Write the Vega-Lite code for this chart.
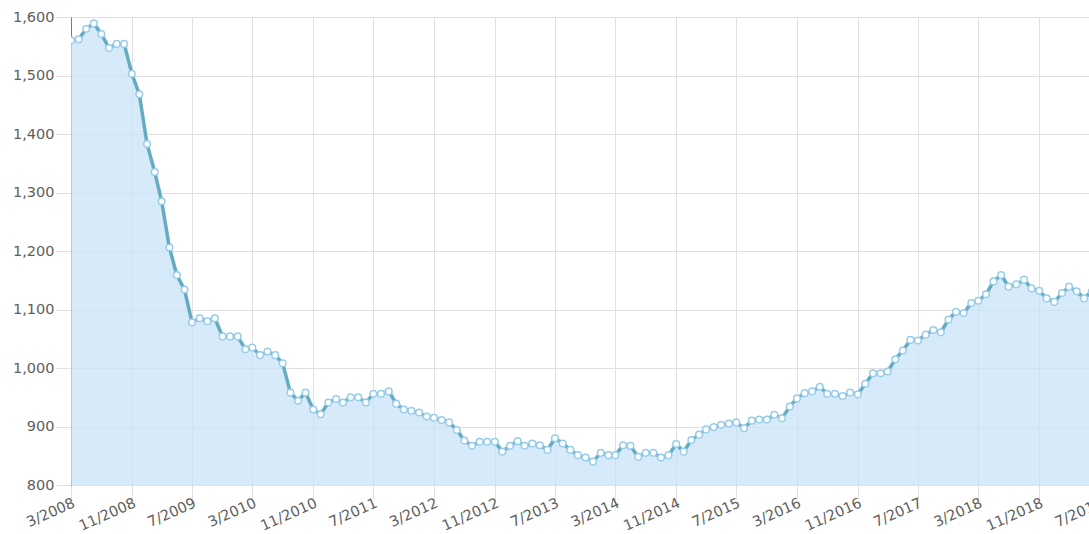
{
  "$schema": "https://vega.github.io/schema/vega-lite/v6.json",
  "autosize": {"type": "none"},
  "padding": {"left": 71, "top": 17, "right": -18, "bottom": 49},
  "width": 1036,
  "height": 468,
  "background": "white",
  "config": {
    "view": {"stroke": null},
    "axis": {
      "labelFont": "DejaVu Sans",
      "labelFontSize": 14.5,
      "labelColor": "#5e5e5e",
      "gridColor": "#e0e0e0",
      "tickColor": "#e0e0e0",
      "gridWidth": 1
    }
  },
  "data": {
    "values": [
      {"month": "2008-03-01T00:00", "value": 1560},
      {"month": "2008-04-01T00:00", "value": 1562},
      {"month": "2008-05-01T00:00", "value": 1580},
      {"month": "2008-06-01T00:00", "value": 1589},
      {"month": "2008-07-01T00:00", "value": 1571},
      {"month": "2008-08-01T00:00", "value": 1547},
      {"month": "2008-09-01T00:00", "value": 1554},
      {"month": "2008-10-01T00:00", "value": 1554},
      {"month": "2008-11-01T00:00", "value": 1503},
      {"month": "2008-12-01T00:00", "value": 1468},
      {"month": "2009-01-01T00:00", "value": 1383},
      {"month": "2009-02-01T00:00", "value": 1335},
      {"month": "2009-03-01T00:00", "value": 1285},
      {"month": "2009-04-01T00:00", "value": 1206},
      {"month": "2009-05-01T00:00", "value": 1159},
      {"month": "2009-06-01T00:00", "value": 1134},
      {"month": "2009-07-01T00:00", "value": 1078},
      {"month": "2009-08-01T00:00", "value": 1085},
      {"month": "2009-09-01T00:00", "value": 1080},
      {"month": "2009-10-01T00:00", "value": 1085},
      {"month": "2009-11-01T00:00", "value": 1054},
      {"month": "2009-12-01T00:00", "value": 1054},
      {"month": "2010-01-01T00:00", "value": 1054},
      {"month": "2010-02-01T00:00", "value": 1032},
      {"month": "2010-03-01T00:00", "value": 1035},
      {"month": "2010-04-01T00:00", "value": 1022},
      {"month": "2010-05-01T00:00", "value": 1028},
      {"month": "2010-06-01T00:00", "value": 1022},
      {"month": "2010-07-01T00:00", "value": 1008},
      {"month": "2010-08-01T00:00", "value": 958},
      {"month": "2010-09-01T00:00", "value": 944},
      {"month": "2010-10-01T00:00", "value": 958},
      {"month": "2010-11-01T00:00", "value": 929},
      {"month": "2010-12-01T00:00", "value": 921},
      {"month": "2011-01-01T00:00", "value": 941},
      {"month": "2011-02-01T00:00", "value": 947},
      {"month": "2011-03-01T00:00", "value": 941},
      {"month": "2011-04-01T00:00", "value": 950},
      {"month": "2011-05-01T00:00", "value": 950},
      {"month": "2011-06-01T00:00", "value": 941},
      {"month": "2011-07-01T00:00", "value": 956},
      {"month": "2011-08-01T00:00", "value": 956},
      {"month": "2011-09-01T00:00", "value": 960},
      {"month": "2011-10-01T00:00", "value": 939},
      {"month": "2011-11-01T00:00", "value": 929},
      {"month": "2011-12-01T00:00", "value": 927},
      {"month": "2012-01-01T00:00", "value": 924},
      {"month": "2012-02-01T00:00", "value": 917},
      {"month": "2012-03-01T00:00", "value": 915},
      {"month": "2012-04-01T00:00", "value": 911},
      {"month": "2012-05-01T00:00", "value": 907},
      {"month": "2012-06-01T00:00", "value": 894},
      {"month": "2012-07-01T00:00", "value": 876},
      {"month": "2012-08-01T00:00", "value": 867},
      {"month": "2012-09-01T00:00", "value": 874},
      {"month": "2012-10-01T00:00", "value": 874},
      {"month": "2012-11-01T00:00", "value": 874},
      {"month": "2012-12-01T00:00", "value": 857},
      {"month": "2013-01-01T00:00", "value": 867},
      {"month": "2013-02-01T00:00", "value": 875},
      {"month": "2013-03-01T00:00", "value": 867},
      {"month": "2013-04-01T00:00", "value": 871},
      {"month": "2013-05-01T00:00", "value": 868},
      {"month": "2013-06-01T00:00", "value": 860},
      {"month": "2013-07-01T00:00", "value": 880},
      {"month": "2013-08-01T00:00", "value": 871},
      {"month": "2013-09-01T00:00", "value": 860},
      {"month": "2013-10-01T00:00", "value": 851},
      {"month": "2013-11-01T00:00", "value": 847},
      {"month": "2013-12-01T00:00", "value": 840},
      {"month": "2014-01-01T00:00", "value": 855},
      {"month": "2014-02-01T00:00", "value": 851},
      {"month": "2014-03-01T00:00", "value": 851},
      {"month": "2014-04-01T00:00", "value": 868},
      {"month": "2014-05-01T00:00", "value": 867},
      {"month": "2014-06-01T00:00", "value": 848},
      {"month": "2014-07-01T00:00", "value": 855},
      {"month": "2014-08-01T00:00", "value": 855},
      {"month": "2014-09-01T00:00", "value": 847},
      {"month": "2014-10-01T00:00", "value": 851},
      {"month": "2014-11-01T00:00", "value": 870},
      {"month": "2014-12-01T00:00", "value": 857},
      {"month": "2015-01-01T00:00", "value": 877},
      {"month": "2015-02-01T00:00", "value": 886},
      {"month": "2015-03-01T00:00", "value": 895},
      {"month": "2015-04-01T00:00", "value": 899},
      {"month": "2015-05-01T00:00", "value": 903},
      {"month": "2015-06-01T00:00", "value": 905},
      {"month": "2015-07-01T00:00", "value": 907},
      {"month": "2015-08-01T00:00", "value": 897},
      {"month": "2015-09-01T00:00", "value": 910},
      {"month": "2015-10-01T00:00", "value": 912},
      {"month": "2015-11-01T00:00", "value": 912},
      {"month": "2015-12-01T00:00", "value": 920},
      {"month": "2016-01-01T00:00", "value": 914},
      {"month": "2016-02-01T00:00", "value": 934},
      {"month": "2016-03-01T00:00", "value": 948},
      {"month": "2016-04-01T00:00", "value": 957},
      {"month": "2016-05-01T00:00", "value": 960},
      {"month": "2016-06-01T00:00", "value": 968},
      {"month": "2016-07-01T00:00", "value": 956},
      {"month": "2016-08-01T00:00", "value": 956},
      {"month": "2016-09-01T00:00", "value": 952},
      {"month": "2016-10-01T00:00", "value": 958},
      {"month": "2016-11-01T00:00", "value": 955},
      {"month": "2016-12-01T00:00", "value": 973},
      {"month": "2017-01-01T00:00", "value": 991},
      {"month": "2017-02-01T00:00", "value": 991},
      {"month": "2017-03-01T00:00", "value": 994},
      {"month": "2017-04-01T00:00", "value": 1015},
      {"month": "2017-05-01T00:00", "value": 1030},
      {"month": "2017-06-01T00:00", "value": 1048},
      {"month": "2017-07-01T00:00", "value": 1047},
      {"month": "2017-08-01T00:00", "value": 1057},
      {"month": "2017-09-01T00:00", "value": 1065},
      {"month": "2017-10-01T00:00", "value": 1061},
      {"month": "2017-11-01T00:00", "value": 1083},
      {"month": "2017-12-01T00:00", "value": 1096},
      {"month": "2018-01-01T00:00", "value": 1094},
      {"month": "2018-02-01T00:00", "value": 1111},
      {"month": "2018-03-01T00:00", "value": 1115},
      {"month": "2018-04-01T00:00", "value": 1126},
      {"month": "2018-05-01T00:00", "value": 1148},
      {"month": "2018-06-01T00:00", "value": 1159},
      {"month": "2018-07-01T00:00", "value": 1139},
      {"month": "2018-08-01T00:00", "value": 1143},
      {"month": "2018-09-01T00:00", "value": 1151},
      {"month": "2018-10-01T00:00", "value": 1136},
      {"month": "2018-11-01T00:00", "value": 1132},
      {"month": "2018-12-01T00:00", "value": 1119},
      {"month": "2019-01-01T00:00", "value": 1113},
      {"month": "2019-02-01T00:00", "value": 1128},
      {"month": "2019-03-01T00:00", "value": 1139},
      {"month": "2019-04-01T00:00", "value": 1131},
      {"month": "2019-05-01T00:00", "value": 1119},
      {"month": "2019-06-01T00:00", "value": 1131},
      {"month": "2019-07-01T00:00", "value": 1135}
    ]
  },
  "encoding": {
    "x": {
      "field": "month",
      "type": "temporal",
      "scale": {"domain": [{"year": 2008, "month": 3, "date": 1}, {"year": 2019, "month": 8, "date": 1}]},
      "axis": {
        "title": null,
        "format": "%-m/%Y",
        "values": [
          {"year": 2008, "month": 3, "date": 1},
          {"year": 2008, "month": 11, "date": 1},
          {"year": 2009, "month": 7, "date": 1},
          {"year": 2010, "month": 3, "date": 1},
          {"year": 2010, "month": 11, "date": 1},
          {"year": 2011, "month": 7, "date": 1},
          {"year": 2012, "month": 3, "date": 1},
          {"year": 2012, "month": 11, "date": 1},
          {"year": 2013, "month": 7, "date": 1},
          {"year": 2014, "month": 3, "date": 1},
          {"year": 2014, "month": 11, "date": 1},
          {"year": 2015, "month": 7, "date": 1},
          {"year": 2016, "month": 3, "date": 1},
          {"year": 2016, "month": 11, "date": 1},
          {"year": 2017, "month": 7, "date": 1},
          {"year": 2018, "month": 3, "date": 1},
          {"year": 2018, "month": 11, "date": 1},
          {"year": 2019, "month": 7, "date": 1}
        ],
        "domain": false,
        "tickSize": 14,
        "labelAngle": -24,
        "labelAlign": "right",
        "labelBaseline": "top",
        "labelPadding": -3,
        "labelOverlap": false,
        "labelFlush": false,
        "labelBound": false
      }
    },
    "y": {
      "field": "value",
      "type": "quantitative",
      "scale": {"domain": [800, 1600], "zero": false, "nice": false},
      "axis": {
        "title": null,
        "values": [800, 900, 1000, 1100, 1200, 1300, 1400, 1500, 1600],
        "format": ",d",
        "domain": true,
        "domainColor": "#7a7a7a",
        "tickSize": 15,
        "labelPadding": 2,
        "labelFlush": false,
        "labelBound": false
      }
    }
  },
  "layer": [
    {"mark": {"type": "area", "color": "#c8e3f8", "opacity": 0.75, "clip": true}},
    {"mark": {"type": "line", "color": "#65abc1", "strokeWidth": 3.5, "clip": true}},
    {"mark": {"type": "point", "filled": true, "fill": "white", "stroke": "#98cdea", "strokeWidth": 1.5, "size": 44, "opacity": 1, "clip": true}}
  ]
}
